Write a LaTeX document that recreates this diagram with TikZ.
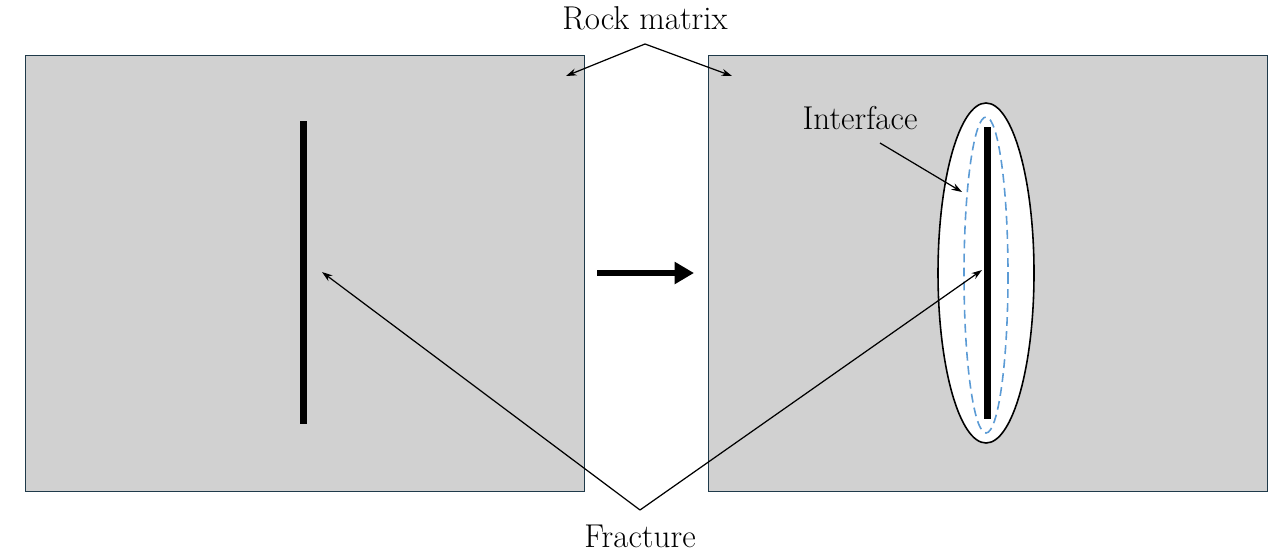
\documentclass[tikz,border=0pt]{standalone}
\usetikzlibrary{arrows.meta}
\definecolor{ifaceblue}{HTML}{5B9BD5}
\definecolor{edgeslate}{HTML}{1F3A4A}
\tikzset{
  matrixbox/.style={draw=edgeslate, fill=black!18, line width=0.5pt},
  crack/.style={fill=black},
  pointer/.style={-{Stealth[length=6pt,width=4pt]}, line width=0.7pt},
  lbl/.style={font=\fontsize{18.8}{22}\selectfont, inner sep=1pt}
}
\begin{document}
\begin{tikzpicture}[x=0.02cm, y=-0.02cm]
  \useasboundingbox (0,0) rectangle (1280,558);

  % 初始状态
  \draw[matrixbox] (25,55) rectangle (584,491);
  \fill[crack] (300,121) rectangle (307,424);
  \coordinate (fracL) at (322,272);

  % 变化箭头
  \coordinate (arrA) at (597,273);
  \coordinate (arrB) at (694,273);
  \draw[line width=3.4pt, -{Triangle[length=11pt,width=12pt]}] (arrA) -- (arrB);

  % 界面形成后
  \draw[matrixbox] (708,55) rectangle (1267,491);
  \draw[fill=white, line width=0.9pt] (986,273) ellipse [x radius=48, y radius=170];
  \draw[draw=ifaceblue, line width=0.9pt, dash pattern=on 5pt off 3pt]
    (986,275) ellipse [x radius=22, y radius=158];
  \fill[crack] (984,127) rectangle (991,419);
  \coordinate (fracR) at (982,270);
  \coordinate (iface) at (962,192);

  % 标注
  \node[lbl] (rock) at (645,18) {Rock matrix};
  \coordinate (rockTip) at (645,44);
  \coordinate (rockL) at (566,76);
  \coordinate (rockR) at (732,76);
  \draw[pointer] (rockTip) -- (rockL);
  \draw[pointer] (rockTip) -- (rockR);

  \node[lbl] (frac) at (640,536) {Fracture};
  \coordinate (fracTip) at (640,510);
  \draw[pointer] (fracTip) -- (fracL);
  \draw[pointer] (fracTip) -- (fracR);

  \node[lbl] (inter) at (860,118) {Interface};
  \coordinate (interTail) at (880,143);
  \draw[pointer] (interTail) -- (iface);
\end{tikzpicture}
\end{document}
